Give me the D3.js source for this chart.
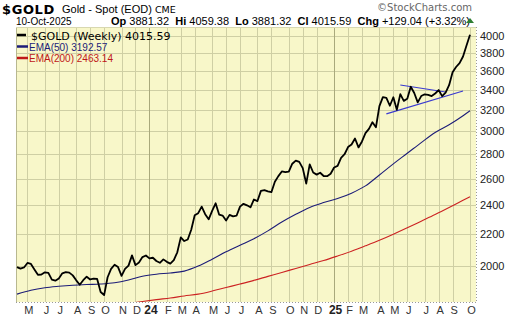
<!DOCTYPE html>
<html>
<head>
<meta charset="utf-8">
<script src="https://cdn.jsdelivr.net/npm/d3@7"></script>
<style>
  body { margin: 0; background: #fff; }
  svg { display: block; }
</style>
</head>
<body>
<svg id="chart"></svg>
<script>
// weekly closes, first week ending Fri 14-Apr-2023, last 10-Oct-2025
const firstWeek = new Date(2023, 3, 14);
const closes = [
  1992, 1983, 1990, 2017, 2011, 1978, 1946, 1948, 1961, 1958,
  1918, 1912, 1925, 1955, 1962, 1959, 1943, 1914, 1889, 1915,
  1935, 1919, 1924, 1922, 1848, 1831, 1932, 1981, 2006, 1992,
  1940, 1981, 2001, 2064, 2004, 2020, 2053, 2063, 2045, 2049,
  2029, 2018, 2039, 2024, 2013, 2035, 2083, 2179, 2155, 2165,
  2230, 2329, 2344, 2391, 2337, 2301, 2360, 2415, 2334, 2327,
  2293, 2332, 2321, 2326, 2391, 2411, 2400, 2386, 2443, 2431,
  2507, 2512, 2503, 2497, 2577, 2621, 2658, 2653, 2657, 2721,
  2747, 2736, 2685, 2563, 2715, 2650, 2633, 2648, 2622, 2621,
  2640, 2690, 2703, 2770, 2800, 2861, 2883, 2936, 2858, 2910,
  2984, 3023, 3084, 3037, 3237, 3327, 3319, 3241, 3325, 3202,
  3357, 3289, 3310, 3432, 3368, 3274, 3337, 3355, 3350, 3337,
  3363, 3398, 3336, 3371, 3448, 3586, 3643, 3685, 3760, 3886.55,
  4015.59
];

const ema50Weeks = [0, 4, 8, 12, 16, 20, 24, 28, 32, 36, 40, 44, 48, 52, 56, 60, 64,
  68, 72, 76, 80, 84, 88, 92, 96, 100, 104, 108, 112, 116, 120, 124, 128, 130];
const ema50 = [1836, 1858, 1872, 1880, 1886, 1890, 1893, 1900, 1916, 1938, 1950, 1957, 1968,
  1998, 2040, 2086, 2128, 2170, 2222, 2282, 2336, 2385, 2420, 2450, 2490, 2545, 2630,
  2720, 2808, 2900, 2990, 3060, 3145, 3192.57];

const ema200Weeks = [32, 36, 40, 44, 48, 52, 56, 60, 64, 68, 72, 76, 80, 84, 88, 92,
  96, 100, 104, 108, 112, 116, 120, 124, 128, 130];
const ema200 = [1785, 1796, 1806, 1815, 1826, 1836, 1853, 1873, 1893, 1914, 1937, 1960,
  1984, 2008, 2032, 2060, 2090, 2124, 2160, 2200, 2243, 2288, 2334, 2384, 2437, 2463.14];

// triangle drawn on the chart: [week, price]
const trendUpper = [[110, 3450], [123, 3378]];
const trendLower = [[106, 3163], [128, 3388]];

const yTicks = [2000, 2200, 2400, 2600, 2800, 3000, 3200, 3400, 3600, 3800, 4000];
const monthLetters = ['J', 'F', 'M', 'A', 'M', 'J', 'J', 'A', 'S', 'O', 'N', 'D'];

const quote = [
  ['Op', '3881.32'], ['Hi', '4059.38'], ['Lo', '3881.32'],
  ['Cl', '4015.59'], ['Chg', '+129.04 (+3.32%)']
];
const legend = [
  { label: '$GOLD (Weekly) 4015.59', color: '#000' },
  { label: 'EMA(50) 3192.57', color: '#1c1c78' },
  { label: 'EMA(200) 2463.14', color: '#c01818' }
];

const width = 520, height = 318;
const plot = { left: 16, right: 476, top: 27, bottom: 302 };
const bg = '#f8f7c9', grid = '#cfcfa4', yearGrid = '#a9a97c';

const svg = d3.select('#chart').attr('width', width).attr('height', height);

const xscale = d3.scaleLinear().domain([0, closes.length - 1]).range([17, 470]);
const yscale = d3.scaleLog().domain([1793, 4110]).range([plot.bottom, plot.top]);

const weeks = closes.map((_, i) => d3.timeDay.offset(firstWeek, 7 * i));

// month boundaries: first week whose monday falls in a new month
const months = [];
weeks.forEach((d, i) => {
  if (i === 0) return;
  const mon = d3.timeDay.offset(d, -4);
  const prev = d3.timeDay.offset(weeks[i - 1], -4);
  if (mon.getMonth() !== prev.getMonth()) months.push({ i, date: mon });
});

svg.append('defs').append('clipPath').attr('id', 'clip')
  .append('rect')
  .attr('x', plot.left).attr('y', plot.top)
  .attr('width', plot.right - plot.left).attr('height', plot.bottom - plot.top);

svg.append('rect')
  .attr('x', plot.left).attr('y', plot.top)
  .attr('width', plot.right - plot.left).attr('height', plot.bottom - plot.top)
  .attr('fill', bg);

// grid
svg.append('g').selectAll('line')
  .data(yTicks)
  .join('line')
  .attr('x1', plot.left).attr('x2', plot.right)
  .attr('y1', d => Math.round(yscale(d)) + 0.5)
  .attr('y2', d => Math.round(yscale(d)) + 0.5)
  .attr('stroke', grid);

svg.append('g').selectAll('line')
  .data(months)
  .join('line')
  .attr('x1', d => Math.round(xscale(d.i)) + 0.5)
  .attr('x2', d => Math.round(xscale(d.i)) + 0.5)
  .attr('y1', plot.top).attr('y2', plot.bottom)
  .attr('stroke', d => d.date.getMonth() === 0 ? yearGrid : grid);

// frame
svg.append('line')
  .attr('x1', plot.left + 0.5).attr('x2', plot.left + 0.5)
  .attr('y1', plot.top).attr('y2', plot.bottom)
  .attr('stroke', '#b8b890');
svg.append('line')
  .attr('x1', plot.left).attr('x2', plot.right)
  .attr('y1', plot.top + 0.5).attr('y2', plot.top + 0.5)
  .attr('stroke', '#d8d8b0');
svg.append('line')
  .attr('x1', plot.left).attr('x2', plot.right)
  .attr('y1', plot.bottom + 0.5).attr('y2', plot.bottom + 0.5)
  .attr('stroke', '#999').attr('stroke-dasharray', '1,2');
svg.append('line')
  .attr('x1', plot.right + 0.5).attr('x2', plot.right + 0.5)
  .attr('y1', plot.top).attr('y2', plot.bottom)
  .attr('stroke', '#999').attr('stroke-dasharray', '1,2');

const lines = svg.append('g').attr('clip-path', 'url(#clip)');

const pairLine = d3.line()
  .x(d => xscale(d[0]))
  .y(d => yscale(d[1]))
  .curve(d3.curveMonotoneX);

lines.append('path')
  .datum(ema200Weeks.map((w, k) => [w, ema200[k]]))
  .attr('d', pairLine)
  .attr('fill', 'none').attr('stroke', '#cc2222').attr('stroke-width', 1.1);

lines.append('path')
  .datum(ema50Weeks.map((w, k) => [w, ema50[k]]))
  .attr('d', pairLine)
  .attr('fill', 'none').attr('stroke', '#1c1c78').attr('stroke-width', 1.1);

lines.selectAll('.trend')
  .data([trendUpper, trendLower])
  .join('path')
  .attr('class', 'trend')
  .attr('d', d3.line().x(d => xscale(d[0])).y(d => yscale(d[1])))
  .attr('stroke', '#3a3ad0').attr('stroke-width', 1.2);

lines.append('path')
  .datum(closes)
  .attr('d', d3.line().x((d, i) => xscale(i)).y(d => yscale(d)))
  .attr('fill', 'none').attr('stroke', '#000').attr('stroke-width', 1.8)
  .attr('stroke-linejoin', 'round');

// right axis labels
svg.append('g').selectAll('text')
  .data(yTicks)
  .join('text')
  .attr('x', plot.right + 4)
  .attr('y', d => yscale(d) + 4)
  .style('font', '11px "Liberation Sans", Arial, sans-serif')
  .attr('fill', '#222')
  .text(d => d);

// bottom axis labels
svg.append('g').selectAll('text')
  .data(months)
  .join('text')
  .attr('x', d => xscale(d.i) + 1.5)
  .attr('y', 314)
  .attr('text-anchor', 'middle')
  .style('font', d => d.date.getMonth() === 0
    ? 'bold 12px "Liberation Sans", Arial, sans-serif'
    : '11px "Liberation Sans", Arial, sans-serif')
  .attr('fill', d => d.date.getMonth() === 0 ? '#222' : '#333')
  .text(d => d.date.getMonth() === 0
    ? String(d.date.getFullYear()).slice(2)
    : monthLetters[d.date.getMonth()]);

// header
svg.append('text')
  .attr('x', 2).attr('y', 13.5)
  .style('font', 'bold 13px "DejaVu Sans", Verdana, sans-serif')
  .style('letter-spacing', '0.6px')
  .text('$GOLD');
svg.append('text')
  .attr('x', 62).attr('y', 13)
  .style('font', '11px "Liberation Sans", Arial, sans-serif')
  .text('Gold - Spot (EOD)')
  .append('tspan')
  .style('font', '9.5px "DejaVu Sans", Verdana, sans-serif')
  .text(' CME');
svg.append('text')
  .attr('x', 16).attr('y', 25)
  .style('font', '10px "Liberation Sans", Arial, sans-serif')
  .text('10-Oct-2025');

const q = svg.append('text')
  .attr('x', 111).attr('y', 25)
  .style('font', '11px "Liberation Sans", Arial, sans-serif')
  .style('white-space', 'pre');
quote.forEach((p, k) => {
  q.append('tspan').attr('font-weight', 'bold').text((k ? '  ' : '') + p[0] + ' ');
  q.append('tspan').text(p[1]);
});

svg.append('path')
  .attr('d', 'M466,23 L470,18 L474,23 Z')
  .attr('fill', '#2e7d32');

svg.append('text')
  .attr('x', 472).attr('y', 11)
  .attr('text-anchor', 'end')
  .style('font', '10px "DejaVu Sans", Verdana, sans-serif')
  .attr('fill', '#666')
  .text('\u00a9StockCharts.com');

// legend
const lg = svg.append('g').selectAll('g')
  .data(legend)
  .join('g')
  .attr('transform', (d, k) => `translate(17, ${35 + k * 11.5})`);
lg.append('line')
  .attr('x1', 0).attr('x2', d => d.label.startsWith('$') ? 9 : 11)
  .attr('y1', 0).attr('y2', 0)
  .attr('stroke', d => d.color).attr('stroke-width', 2.5);
lg.append('text')
  .attr('x', d => d.label.startsWith('$') ? 14 : 12)
  .attr('y', d => d.label.startsWith('$') ? 4.5 : 4)
  .attr('fill', d => d.color)
  .style('font', d => d.label.startsWith('$')
    ? '11px "DejaVu Sans", Verdana, sans-serif'
    : '10px "Liberation Sans", Arial, sans-serif')
  .text(d => d.label);
</script>
</body>
</html>
